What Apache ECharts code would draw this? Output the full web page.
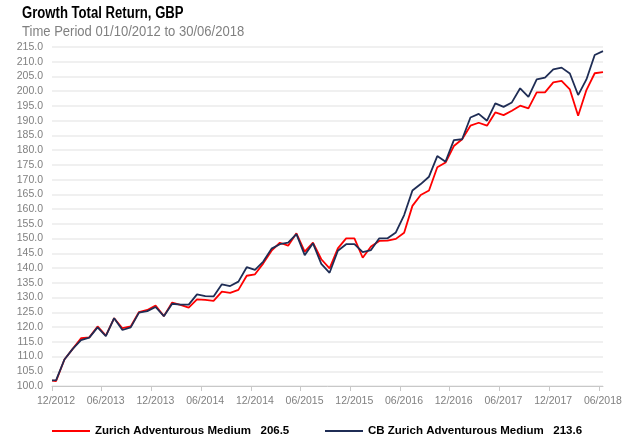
<!DOCTYPE html>
<html><head><meta charset="utf-8">
<script src="https://cdn.jsdelivr.net/npm/echarts@6/dist/echarts.min.js"></script>
<style>html,body{margin:0;padding:0;background:#fff}#c{width:625px;height:440px}</style>
</head><body><div id="c"></div>
<script>
const titleText = 'Growth Total Return, GBP';
const subtitleText = 'Time Period 01/10/2012 to 30/06/2018';
const tickLabels = ['12/2012','06/2013','12/2013','06/2014','12/2014','06/2015','12/2015','06/2016','12/2016','06/2017','12/2017','06/2018'];
const fundName = 'Zurich Adventurous Medium';
const benchName = 'CB Zurich Adventurous Medium';
const fundValues = [101.8,101.7,109.0,112.6,116.2,116.5,120.2,117.1,123.0,119.6,120.2,125.1,125.8,127.3,123.7,128.3,127.5,126.6,129.4,129.2,128.9,132.0,131.6,132.6,137.4,137.9,141.6,145.9,148.6,147.6,151.8,145.6,148.6,143.0,139.9,146.7,150.1,150.1,143.5,147.3,149.2,149.3,149.9,152.0,161.1,164.8,166.3,174.2,175.8,181.4,183.7,188.3,189.3,188.3,192.8,191.9,193.4,195.1,194.2,199.6,199.6,203.0,203.5,200.6,191.7,200.4,206.1,206.5];
const benchValues = [101.9,102.0,109.0,112.6,115.6,116.4,119.9,116.9,123.0,119.0,119.9,124.9,125.4,126.8,123.7,127.9,127.6,127.6,131.1,130.5,130.4,134.5,133.9,135.4,140.3,139.4,142.2,146.6,148.1,148.6,151.5,144.4,148.4,141.4,138.4,145.9,148.1,148.1,145.4,146.1,150.1,150.1,152.1,158.0,166.3,168.5,171.0,178.0,176.1,183.4,183.7,191.1,192.3,190.0,195.9,194.7,196.2,201.0,198.1,204.0,204.6,207.4,208.0,206.0,198.7,204.0,212.3,213.6];

// x position in months since the 12/2012 tick: start point at 0, monthly points mid-month
const monthPos = i => (i === 0 ? 0 : i - 0.5);
const toPairs = vals => vals.map((v, i) => [monthPos(i), v]);
const tickValues = tickLabels.map((_, i) => i * 6);
const lastOf = a => a[a.length - 1];

const FONT = "'Liberation Sans Narrow', 'Arial Narrow', 'Liberation Sans', sans-serif";
const chart = echarts.init(document.getElementById('c'), null, {renderer: 'canvas'});
chart.setOption({
  animation: false,
  backgroundColor: '#fff',
  graphic: [
    {type: 'text', left: 22, top: 6, scaleX: 0.82,
     style: {text: titleText, font: "bold 16px " + FONT, fill: '#000'}},
    {type: 'text', left: 22, top: 24, scaleX: 0.87,
     style: {text: subtitleText, font: "15px " + FONT, fill: '#808080'}}
  ],
  grid: {left: 52, right: 22, top: 47, bottom: 54, containLabel: false},
  xAxis: {
    type: 'value', min: 0, max: monthPos(fundValues.length - 1),
    splitLine: {show: false},
    axisLine: {lineStyle: {color: '#c8c8c8', width: 1}},
    axisTick: {show: true, length: 5, customValues: tickValues, lineStyle: {color: '#c8c8c8'}},
    axisLabel: {
      customValues: tickValues, color: '#808080', fontFamily: FONT, fontSize: 10.5, margin: 10,
      padding: [0, 0, 0, 8],
      formatter: v => tickLabels[Math.round(v / 6)] || ''
    }
  },
  yAxis: {
    type: 'value', min: 100, max: 215, interval: 5,
    axisLine: {show: false}, axisTick: {show: false},
    splitLine: {lineStyle: {color: '#ebebeb', width: 1.5}},
    axisLabel: {color: '#808080', fontFamily: FONT, fontSize: 10.5, margin: 9, formatter: v => v.toFixed(1)}
  },
  legend: [
    {data: [fundName], left: 52, top: 425, padding: 0, icon: 'rect', itemWidth: 38, itemHeight: 2,
     textStyle: {fontFamily: FONT, fontSize: 11.5, fontWeight: 'bold', color: '#000'},
     formatter: n => n + '   ' + lastOf(fundValues).toFixed(1)},
    {data: [benchName], left: 325, top: 425, padding: 0, icon: 'rect', itemWidth: 38, itemHeight: 2,
     textStyle: {fontFamily: FONT, fontSize: 11.5, fontWeight: 'bold', color: '#000'},
     formatter: n => n + '   ' + lastOf(benchValues).toFixed(1)}
  ],
  series: [
    {name: fundName, type: 'line', data: toPairs(fundValues), symbol: 'none',
     lineStyle: {color: '#ff0000', width: 1.8}, itemStyle: {color: '#ff0000'}},
    {name: benchName, type: 'line', data: toPairs(benchValues), symbol: 'none',
     lineStyle: {color: '#1f2d55', width: 1.8}, itemStyle: {color: '#1f2d55'}}
  ]
});
</script>
</body></html>
